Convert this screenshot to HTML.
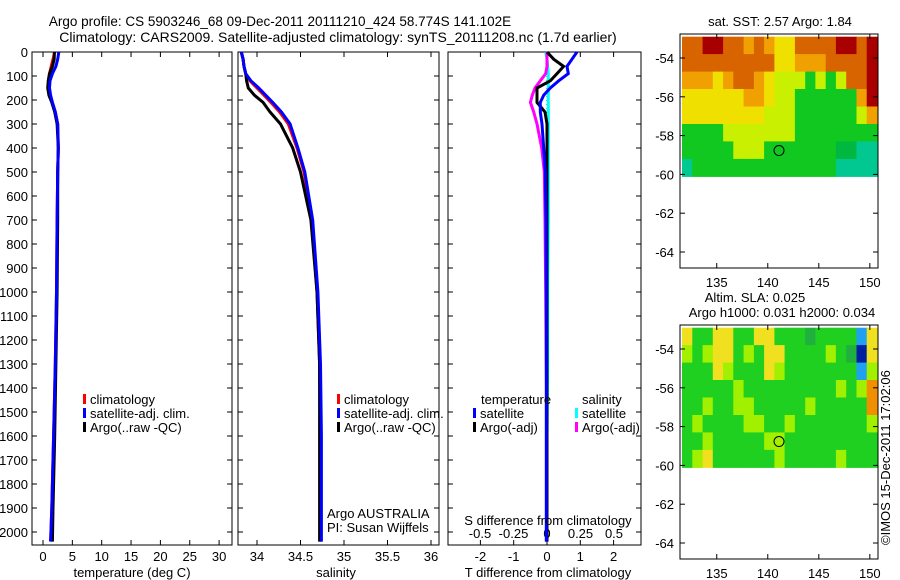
<!DOCTYPE html>
<html><head><meta charset="utf-8"><style>
html,body{margin:0;padding:0;background:#fff}
svg{display:block;font-family:"Liberation Sans",sans-serif}
text{font-size:13px;fill:#000}
</style></head><body>
<svg id="c" width="900" height="580" viewBox="0 0 900 580" xmlns="http://www.w3.org/2000/svg">
<text x="280" y="26" text-anchor="middle" style="font-size:13.5px">Argo profile: CS 5903246_68 09-Dec-2011 20111210_424 58.774S 141.102E</text>
<text x="338" y="42" text-anchor="middle" style="font-size:14px">Climatology: CARS2009. Satellite-adjusted climatology: synTS_20111208.nc (1.7d earlier)</text>
<text x="780" y="26" text-anchor="middle">sat. SST: 2.57 Argo: 1.84</text>
<text x="755" y="302" text-anchor="middle">Altim. SLA: 0.025</text>
<text x="782" y="317" text-anchor="middle">Argo h1000: 0.031 h2000: 0.034</text>
<text transform="translate(890,545) rotate(-90)">©IMOS 15-Dec-2011 17:02:06</text>
<g id="g"></g>
</svg>
<script>
// ---- data ----
const depthTicks=[0,100,200,300,400,500,600,700,800,900,1000,1100,1200,1300,1400,1500,1600,1700,1800,1900,2000];
const tempTicks=[0,5,10,15,20,25,30];
const salTicks=[34,34.5,35,35.5,36];
const salTickLabels=["34","34.5","35","35.5","36"];
const tdTicks=[-2,-1,0,1,2];
const sdTicks=[-0.5,-0.25,0,0.25,0.5];
const sdTickLabels=["-0.5","-0.25","0","0.25","0.5"];
const profDepth=[0,30,60,90,120,150,180,210,250,300,400,500,700,1000,1300,1600,1900,2040];
const tempClim=[2.0,1.7,1.4,1.1,0.9,0.9,1.2,1.6,2.1,2.5,2.6,2.5,2.4,2.3,2.1,1.8,1.5,1.3];
const tempSat=[2.7,2.5,2.2,1.6,1.2,1.1,1.3,1.6,2.1,2.5,2.6,2.5,2.4,2.3,2.1,1.8,1.5,1.3];
const tempArgo=[1.95,1.9,1.6,1.1,0.9,0.8,1.0,1.5,2.0,2.4,2.6,2.5,2.5,2.4,2.2,2.0,1.7,1.6];
const salClim=[33.82,33.84,33.85,33.87,33.92,34.0,34.08,34.16,34.26,34.36,34.46,34.54,34.63,34.69,34.72,34.73,34.73,34.73];
const salSat=[33.82,33.84,33.85,33.87,33.93,34.02,34.1,34.18,34.28,34.38,34.47,34.55,34.64,34.7,34.73,34.74,34.74,34.74];
const salArgo=[33.82,33.84,33.85,33.87,33.88,33.9,33.97,34.07,34.15,34.27,34.41,34.5,34.62,34.69,34.72,34.72,34.72,34.72];
const tdSat=[0.9,0.75,0.6,0.64,0.35,0.1,-0.1,-0.2,-0.2,-0.15,-0.1,-0.05,-0.03,-0.02,-0.02,-0.02,-0.02,-0.02];
const tdArgo=[0.0,0.2,0.5,0.3,0.1,-0.3,-0.3,-0.3,-0.06,0,0,0,0,0,0,0,0,0];
const sdSat=[-0.01,0,0.005,0.01,0.01,0.01,0.01,0.01,0.01,0.01,0.01,0.01,0.01,0.005,0.005,0,0,0];
const sdArgo=[0,0,0,-0.01,-0.05,-0.09,-0.11,-0.125,-0.1,-0.075,-0.04,-0.02,-0.015,-0.01,-0.005,0,0,0];
const latTicks=[-54,-56,-58,-60,-62,-64];
const lonTicks=[135,140,145,150];
const sstRows=["OORROOoOoYYOOOORROR","OOOOOOOOOYYoooOOOOR","oooYoOOoYyyyGyGyOOR","YYYYYYooYyyGGGGGGoR","YYYYYYYYyyyGGGGGGyo","GGGGyyyyyyyGGGGGGGG","GGGGGyyyGGGGGGGggTT","TGGGGGGGGGGGGGGTTTT"];
const slaRows=["YGGYYGGYYGGGgGGGGbY","yGyYYGyGYYGGGGyGgBY","GGGYyGGGYyGGGGGGGby","GGGGGyGGGGGGGGGyGyo","GGyGGyyGGGGGyGGGGGo","GyGGGGyyGGyGGGGGGGy","GGyGGGGGyyGGGGGGGGG","GyYGGGGGGyGGGGGyGGG"];
const argoLon=141.1, argoLat=-58.77;
// ---- rendering ----
const g=document.getElementById('g');const NS='http://www.w3.org/2000/svg';
function mk(t,a,p){const e=document.createElementNS(NS,t);for(const k in a)e.setAttribute(k,a[k]);(p||g).appendChild(e);return e;}
const Y0=52,DY=0.24;const yD=d=>Y0+d*DY;
const xT=v=>43+v*5.87, xS=v=>257+(v-34)*87, xTD=v=>547+v*33.3, xSD=v=>547+v*134;
function frame(x0,x1,name,labelDepth){
 const f=mk('rect',{x:x0,y:52,width:x1-x0,height:493,fill:'none',stroke:'#000','stroke-width':1});
 
 depthTicks.forEach(d=>{const y=yD(d);mk('line',{x1:x0,x2:x0+5,y1:y,y2:y,stroke:'#000'});mk('line',{x1:x1-5,x2:x1,y1:y,y2:y,stroke:'#000'});
  if(labelDepth){const t=mk('text',{x:x0-4,y:y+5,'text-anchor':'end'});t.textContent=d;}});
}
function xticks(ticks,labels,fx,yl,name){ticks.forEach((v,i)=>{const x=fx(v);mk('line',{x1:x,x2:x,y1:545,y2:540,stroke:'#000'});mk('line',{x1:x,x2:x,y1:52,y2:57,stroke:'#000'});
 const t=mk('text',{x:x,y:yl,'text-anchor':'middle'});t.textContent=labels[i];});}
function line(xs,fx,col,w,name){const pts=xs.map((v,i)=>fx(v).toFixed(1)+','+yD(profDepth[i]).toFixed(1)).join(' ');
 const p=mk('polyline',{points:pts,fill:'none',stroke:col,'stroke-width':w});}
function label(x,y,s,name,anchor){const t=mk('text',{x:x,y:y,'text-anchor':anchor||'start'});t.textContent=s;}
function leg(x,y,col,s,name){mk('rect',{x:x,y:y-10,width:3,height:10,fill:col});label(x+7,y,s,name);}
// panel 1
frame(32,232,'temperature-panel',true);
xticks(tempTicks,tempTicks.map(String),xT,561,'temperature-tick-label');
line(tempClim,xT,'#f00',3,'temperature-climatology-line');
line(tempArgo,xT,'#000',3,'temperature-argo-line');
line(tempSat,xT,'#00f',3,'temperature-satellite-line');
label(132,577,'temperature (deg C)','temperature-axis-title','middle');
leg(83,404,'#f00','climatology','legend-climatology');leg(83,418,'#00f','satellite-adj. clim.','legend-satellite');leg(83,432,'#000','Argo(..raw -QC)','legend-argo');
// panel 2
frame(238,439,'salinity-panel',false);
xticks(salTicks,salTickLabels,xS,561,'salinity-tick-label');
line(salClim,xS,'#f00',3,'salinity-climatology-line');
line(salArgo,xS,'#000',3,'salinity-argo-line');
line(salSat,xS,'#00f',3,'salinity-satellite-line');
label(336,577,'salinity','salinity-axis-title','middle');
leg(337,404,'#f00','climatology','legend-climatology');leg(337,418,'#00f','satellite-adj. clim.','legend-satellite');leg(337,432,'#000','Argo(..raw -QC)','legend-argo');
label(327,518,'Argo AUSTRALIA','argo-program-label');label(327,532,'PI: Susan Wijffels','pi-label');
// panel 3
frame(448,641,'difference-panel',false);
xticks(tdTicks,tdTicks.map(String),xTD,561,'t-diff-tick-label');
sdTicks.forEach((v,i)=>label(xSD(v),538,sdTickLabels[i],'s-diff-tick-label','middle'));
mk('line',{x1:547,x2:547,y1:52,y2:545,stroke:'#000','stroke-dasharray':'1,3'});
line(sdSat.map(v=>v*4),xTD,'#0ff',3,'salinity-satellite-diff-line');
line(sdArgo.map(v=>v*4),xTD,'#f0f',3,'salinity-argo-diff-line');
line(tdArgo,xTD,'#000',3,'temperature-argo-diff-line');
line(tdSat,xTD,'#00f',3,'temperature-satellite-diff-line');
label(481,404,'temperature','legend-temperature-heading');label(582,404,'salinity','legend-salinity-heading');
leg(473,418,'#00f','satellite','legend-t-satellite');leg(473,432,'#000','Argo(-adj)','legend-t-argo');
leg(575,418,'#0ff','satellite','legend-s-satellite');leg(575,432,'#f0f','Argo(-adj)','legend-s-argo');
label(548,525,'S difference from climatology','s-diff-axis-title','middle');
label(548,577,'T difference from climatology','t-diff-axis-title','middle');
// maps
const sstCol={R:'#a80000',O:'#d86400',o:'#f0a000',Y:'#f0e000',y:'#c8f000',G:'#10c820',g:'#00b840',T:'#00c890'};
const slaCol={G:'#20d020',g:'#20b040',y:'#a0f000',Y:'#f0e020',o:'#f09000',B:'#0020a0',b:'#20a0f0'};
function map(top,rows,cols,name){
 const lonL=131.4,lonR=150.8,x=v=>680+(v-lonL)/(lonR-lonL)*198;
 const yL=v=>top+24+(-54-v)*19.4;
 const gg=mk('g',{});
 const nR=rows.length,nC=rows[0].length,cw=(150.7-131.6)/nC,ch=(60.1-52.9)/nR;
 rows.forEach((r,i)=>{for(let j=0;j<nC;j++){const x0=x(131.6+j*cw),y0=yL(-52.9-i*ch);
  mk('rect',{x:x0.toFixed(1),y:y0.toFixed(1),width:(x(131.6+(j+1)*cw)-x0+0.5).toFixed(1),height:(ch*19.4+0.5).toFixed(1),fill:cols[r[j]]},gg);}});
 mk('rect',{x:680,y:top,width:198,height:234,fill:'none',stroke:'#000'});
 latTicks.forEach(v=>{const y=yL(v);mk('line',{x1:680,x2:685,y1:y,y2:y,stroke:'#000'});mk('line',{x1:873,x2:878,y1:y,y2:y,stroke:'#000'});label(674,y+5,String(v),'lat-tick-label','end');});
 lonTicks.forEach(v=>{const X=x(v);mk('line',{x1:X,x2:X,y1:top+234,y2:top+229,stroke:'#000'});mk('line',{x1:X,x2:X,y1:top,y2:top+5,stroke:'#000'});label(X,top+253,String(v),'lon-tick-label','middle');});
 const c=mk('circle',{cx:x(argoLon),cy:yL(argoLat),r:5,fill:'none',stroke:'#000'});
}
map(34,sstRows,sstCol,'sst-map');
map(325,slaRows,slaCol,'sla-map');
</script>
</body></html>
